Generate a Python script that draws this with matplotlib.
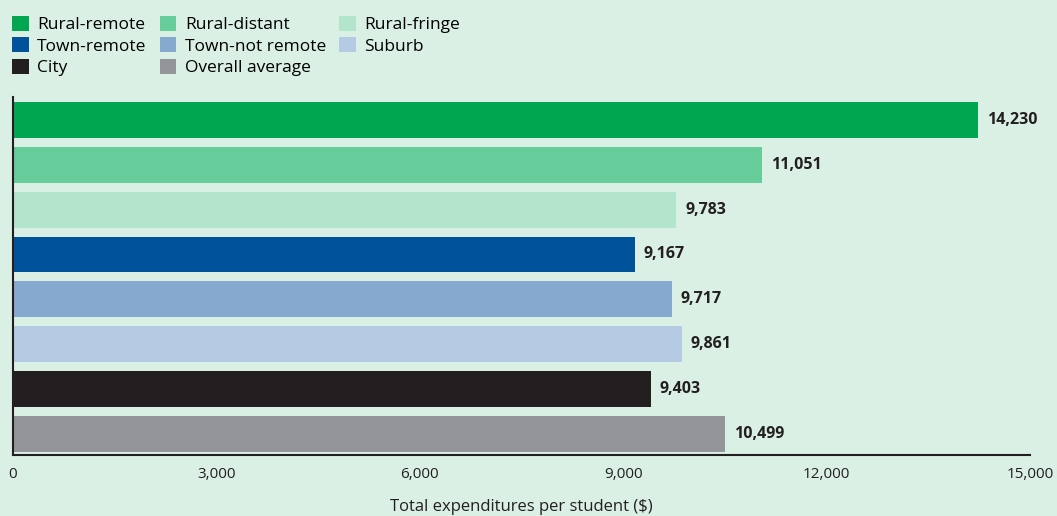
import matplotlib.pyplot as plt
from matplotlib.patches import Patch

# locale categories and spending per student
categories = ["Rural-remote", "Rural-distant", "Rural-fringe", "Town-remote",
              "Town-not remote", "Suburb", "City", "Overall average"]
values = [14230, 11051, 9783, 9167, 9717, 9861, 9403, 10499]
colors = ["#00a650", "#66cc99", "#b3e4cc", "#00529b",
          "#85a9cf", "#b4cbe3", "#231f20", "#939598"]
xticks = [0, 3000, 6000, 9000, 12000, 15000]

bg = "#daf0e4"
txt = "#231f20"

fig = plt.figure(figsize=(10.57, 5.16), dpi=100, facecolor=bg)
ax = fig.add_axes([13 / 1057, 61 / 516, 1017 / 1057, 358 / 516], facecolor=bg)

pos = list(range(len(values)))
ax.barh(pos, values, height=0.8, color=colors)
for y, v in zip(pos, values):
    ax.annotate(f"{v:,}", (v, y), xytext=(6.5, 0), textcoords="offset points",
                va="center", ha="left", fontsize=11.5, fontweight="bold",
                color=txt, family="Open Sans")

ax.set_xlim(0, 15000)
ax.set_ylim(7.47, -0.51)
ax.set_yticks([])
ax.set_xticks(xticks)
ax.set_xticklabels([f"{t:,}" for t in xticks],
                   family=["Liberation Sans Narrow", "Open Sans"],
                   fontsize=11, color=txt)
ax.tick_params(axis="x", length=0, pad=9)
ax.set_xlabel("Total expenditures per student ($)", family="Open Sans",
              fontsize=12, color=txt, labelpad=12)
for s in ["top", "right"]:
    ax.spines[s].set_visible(False)
for s in ["left", "bottom"]:
    ax.spines[s].set_color(txt)
    ax.spines[s].set_linewidth(1.5)

# legend goes column by column
order = [0, 3, 6, 1, 4, 7, 2, 5]
handles = [Patch(facecolor=colors[i], label=categories[i]) for i in order]
fig.legend(handles=handles, ncol=3, loc="upper left", bbox_to_anchor=(0.0, 0.993),
           frameon=False, prop={"family": "Open Sans", "size": 12.5},
           handlelength=0.95, handleheight=0.95, handletextpad=0.5,
           columnspacing=0.75, labelspacing=0.24, borderaxespad=0.3)

fig.savefig("out.png", dpi=100, facecolor=bg)
